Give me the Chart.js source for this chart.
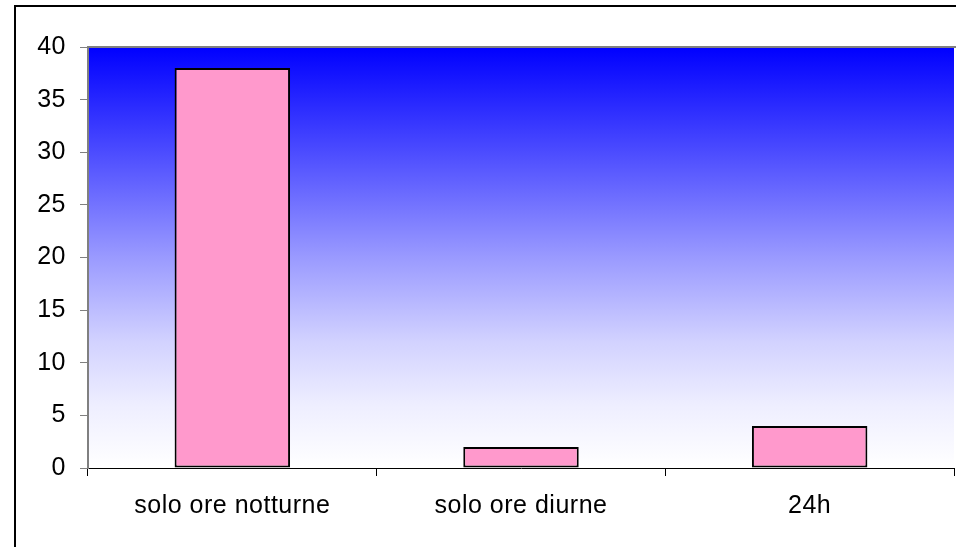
<!DOCTYPE html>
<html>
<head>
<meta charset="utf-8">
<script src="https://cdn.jsdelivr.net/npm/chart.js@4"></script>
<style>
  html, body { margin: 0; padding: 0; background: #fff; }
  #wrap { width: 956px; height: 547px; }
</style>
</head>
<body>
<div id="wrap"><canvas id="chart-1" width="956" height="547"></canvas></div>
<script>
/************************ chart data *********************************/
const categories = ["solo ore notturne", "solo ore diurne", "24h"];
const values = [38, 2, 4];
const yTicks = [0, 5, 10, 15, 20, 25, 30, 35, 40];

// paints the blue -> white plot background and the outer frame
const backdrop = {
  id: "backdrop",
  beforeDraw(chart) {
    const { ctx, chartArea: a } = chart;
    ctx.letterSpacing = "0.5px";
    ctx.save();
    ctx.fillStyle = "#fff";
    ctx.fillRect(0, 0, chart.width, chart.height);
    const g = ctx.createLinearGradient(0, a.top, 0, a.bottom);
    g.addColorStop(0, "#0000ff");
    g.addColorStop(0.25, "#4c4cff");
    g.addColorStop(0.5, "#9a9aff");
    g.addColorStop(0.7, "#d2d2ff");
    g.addColorStop(0.85, "#eeeeff");
    g.addColorStop(1, "#ffffff");
    ctx.fillStyle = g;
    ctx.fillRect(a.left, a.top, a.right - a.left, a.bottom - a.top);
    ctx.strokeStyle = "#808080";
    ctx.lineWidth = 2;
    ctx.beginPath();
    ctx.moveTo(a.left, a.top);
    ctx.lineTo(a.right + 5, a.top);
    ctx.stroke();
    ctx.restore();
  },
  afterDraw(chart) {
    const ctx = chart.ctx;
    ctx.save();
    ctx.strokeStyle = "#000";
    ctx.lineWidth = 2;
    ctx.strokeRect(15, 6, 1000, 600);
    ctx.restore();
  }
};

const ctxA = document.getElementById("chart-1").getContext("2d");
const myChart1 = new Chart(ctxA, {
  type: "bar",
  data: {
    labels: categories,
    datasets: [{
      data: values,
      backgroundColor: "#ff99cc",
      borderColor: "#000",
      borderWidth: 2,
      borderSkipped: false,
      categoryPercentage: 0.4,
      barPercentage: 1.0
    }]
  },
  options: {
    responsive: false,
    animation: false,
    layout: { padding: { left: 0, top: 47, right: 2, bottom: 0 } },
    plugins: { legend: { display: false }, tooltip: { enabled: false } },
    scales: {
      x: {
        offset: true,
        grid: { offset: true, drawOnChartArea: false, tickLength: 8, color: "#000" },
        border: { color: "#000", width: 1 },
        ticks: { color: "#000", padding: 15, font: { family: "'Liberation Sans', Arial", size: 25 } },
        afterFit(s) { s.height = 79; }
      },
      y: {
        min: 0,
        max: 40,
        afterBuildTicks(s) { s.ticks = yTicks.map(v => ({ value: v })); },
        grid: { drawOnChartArea: false, tickLength: 8, color: "#808080" },
        border: { color: "#808080", width: 2 },
        ticks: { color: "#000", padding: 14, font: { family: "'Liberation Sans', Arial", size: 25 } },
        afterFit(s) { s.width = 88; }
      }
    }
  },
  plugins: [backdrop]
});
</script>
</body>
</html>
